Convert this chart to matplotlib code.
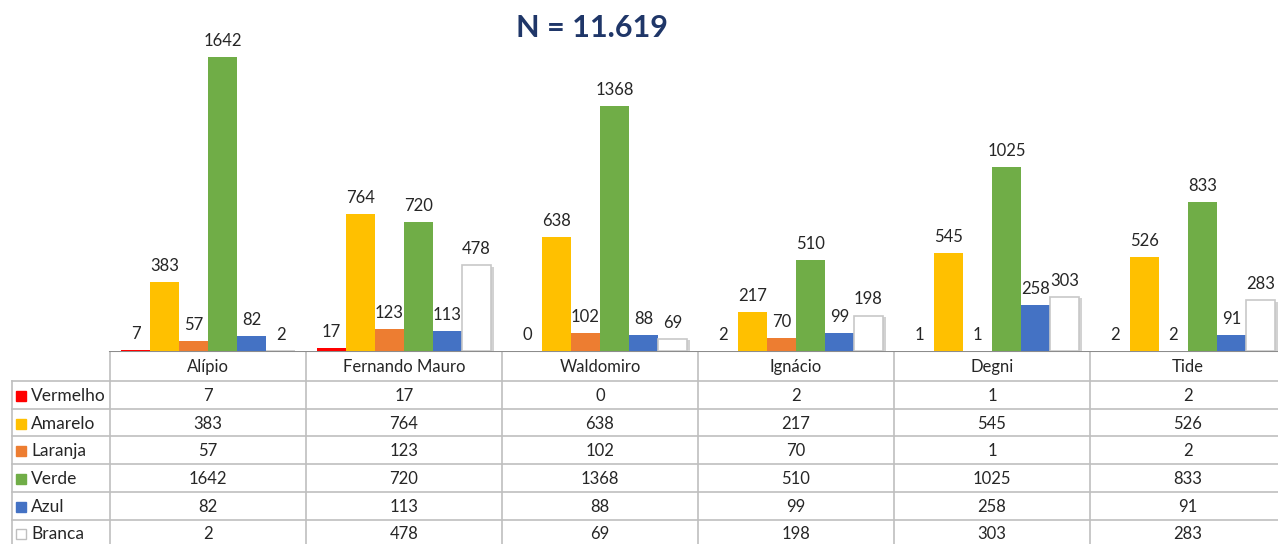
import numpy as np
import matplotlib.pyplot as plt
import matplotlib.patheffects as pe

plt.rcParams['font.family'] = ['Lato', 'DejaVu Sans']

# dados
categorias = ['Alípio', 'Fernando Mauro', 'Waldomiro', 'Ignácio', 'Degni', 'Tide']
series = ['Vermelho', 'Amarelo', 'Laranja', 'Verde', 'Azul', 'Branca']
vermelho = [7, 17, 0, 2, 1, 2]
amarelo = [383, 764, 638, 217, 545, 526]
laranja = [57, 123, 102, 70, 1, 2]
verde = [1642, 720, 1368, 510, 1025, 833]
azul = [82, 113, 88, 99, 258, 91]
branca = [2, 478, 69, 198, 303, 283]
titulo = 'N = 11.619'

valores = [vermelho, amarelo, laranja, verde, azul, branca]
cores = ['#ff0000', '#ffc000', '#ed7d31', '#70ad47', '#4472c4', '#ffffff']
bordas = ['none', 'none', 'none', 'none', 'none', '#c8c8c8']

W, H = 1278, 544
esq, col_w, base_y = 110, 196, 351
row_top, row_h = 381, 27.7
label_x0 = 12

fig = plt.figure(figsize=(W / 100, H / 100), dpi=100)

# grafico de barras
ax = fig.add_axes([esq / W, (H - base_y) / H, 6 * col_w / W, base_y / H])
n = len(categorias)
larg = 0.148
x = np.arange(n) + 0.5
sombra = [pe.SimplePatchShadow(offset=(2, -1), alpha=0.25), pe.Normal()]
for j, (nome, vals) in enumerate(zip(series, valores)):
    pos = x + (j - 2.5) * larg
    barras = ax.bar(pos, vals, width=larg, color=cores[j], edgecolor=bordas[j],
                    linewidth=1.2, zorder=2)
    if cores[j] == '#ffffff':
        for b in barras:
            b.set_path_effects(sombra)
    for p, v in zip(pos, vals):
        ax.text(p, v + 45, str(v), ha='center', va='bottom', fontsize=12,
                color='#262626')
ax.set_xlim(0, n)
ax.set_ylim(0, 1960)
ax.axis('off')

fig.text(592 / W, 1 - 28 / H, titulo, ha='center', va='center', fontsize=22,
         fontweight='bold', color='#1f3668')

# tabela
tb = fig.add_axes([0, 0, 1, (H - base_y) / H])
tb.set_xlim(0, W)
tb.set_ylim(H, base_y)
tb.axis('off')
cinza = '#bfbfbf'
lado_dir = esq + n * col_w
tb.plot([esq, lado_dir], [base_y, base_y], color='#8c8c8c', lw=1.5, zorder=3)
tb.plot([esq, lado_dir], [row_top, row_top], color=cinza, lw=1.2)
tb.plot([label_x0, esq], [row_top, row_top], color=cinza, lw=1.2)
for k in range(n + 1):
    tb.plot([esq + k * col_w] * 2, [base_y, H], color=cinza, lw=1.2)
tb.plot([label_x0, label_x0], [row_top, H], color=cinza, lw=1.2)
for i in range(1, len(series) + 1):
    y = row_top + i * row_h
    tb.plot([label_x0, lado_dir], [y, y], color=cinza, lw=1.2)

for k, c in enumerate(categorias):
    tb.text(esq + (k + 0.5) * col_w, (base_y + row_top) / 2 + 1, c,
            ha='center', va='center', fontsize=12, color='#262626')

for i, (nome, vals) in enumerate(zip(series, valores)):
    yc = row_top + (i + 0.5) * row_h + 1
    tb.plot(21, yc, marker='s', markersize=7.5, color=cores[i],
            markeredgecolor='#bfbfbf' if cores[i] == '#ffffff' else cores[i])
    tb.text(31, yc, nome, ha='left', va='center', fontsize=12.5, color='#262626')
    for k, v in enumerate(vals):
        tb.text(esq + (k + 0.5) * col_w, yc, str(v), ha='center', va='center',
                fontsize=12, color='#262626')

fig.savefig('out.png', dpi=100)
